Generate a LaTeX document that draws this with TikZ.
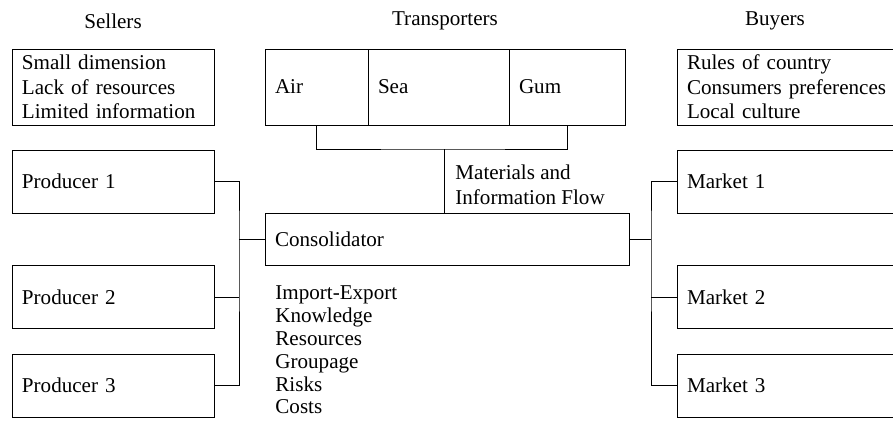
\documentclass[tikz,border=0pt]{standalone}
\usepackage{fontspec}
\setmainfont{Liberation Serif}
\usepackage{tikz}

\begin{document}
\begin{tikzpicture}[line width=0.45pt, font=\fontsize{12}{14}\selectfont,
        box/.style={draw, inner xsep=0.2cm, inner ysep=0pt, align=left},
        wide box/.style={box, text width=3.64cm, minimum height=1.52cm},
        unit box/.style={box, text width=3.64cm, minimum height=1.26cm},
        mode box/.style={box, minimum height=1.52cm}]
        \useasboundingbox (0, 0) rectangle (17.86, -8.54);
        \node (Sellers) at (2.26, -0.42) {Sellers};
        \node (Transporters) at (8.9, -0.42) {Transporters};
        \node (Buyers) at (15.5, -0.42) {Buyers};
        \node[wide box] (Sellers Box) at (2.26, -1.74) {Small dimension\\Lack of resources\\Limited information};
        \node[mode box, text width=1.66cm] (Air) at (6.33, -1.74) {Air};
        \node[mode box, text width=2.42cm] (Sea) at (8.77, -1.74) {Sea};
        \node[mode box, text width=1.92cm] (Gum) at (11.34, -1.74) {Gum};
        \node[wide box, text width=4.6cm] (Buyers Box) at (16.04, -1.74) {Rules of country\\Consumers preferences\\Local culture};
        \node[unit box] (Producer 1) at (2.26, -3.63) {Producer 1};
        \node[unit box] (Producer 2) at (2.26, -5.94) {Producer 2};
        \node[unit box] (Producer 3) at (2.26, -7.71) {Producer 3};
        \node[unit box, text width=4.6cm] (Market 1) at (16.04, -3.63) {Market 1};
        \node[unit box, text width=4.6cm] (Market 2) at (16.04, -5.94) {Market 2};
        \node[unit box, text width=4.6cm] (Market 3) at (16.04, -7.71) {Market 3};
        \node[box, text width=6.88cm, minimum height=1.04cm] (Consolidator) at (8.94, -4.78) {Consolidator};
        \node[anchor=west, inner sep=0pt, align=left] (Flow) at (9.1, -3.69) {Materials and\\Information Flow};
        \node[anchor=west, inner sep=0pt, align=left, font=\fontsize{12}{13}\selectfont] (Services) at (5.5, -7.0) {Import-Export\\Knowledge\\Resources\\Groupage\\Risks\\Costs};
        \coordinate (Bracket) at (8.88, -2.98);
        \coordinate (Left Hub) at (4.78, -4.78);
        \coordinate (Right Hub) at (13.02, -4.78);
        \draw (Air.south) |- (Bracket) -| (Gum.south);
        \draw (Bracket) -- (Bracket |- Consolidator.north);
        \draw (Producer 1) -| (Left Hub) |- (Producer 3);
        \draw (Producer 2) -- (Producer 2 -| Left Hub);
        \draw (Left Hub) -- (Consolidator);
        \draw (Consolidator) -- (Right Hub);
        \draw (Market 1) -| (Right Hub) |- (Market 3);
        \draw (Market 2) -- (Market 2 -| Right Hub);
    \end{tikzpicture}
\end{document}
